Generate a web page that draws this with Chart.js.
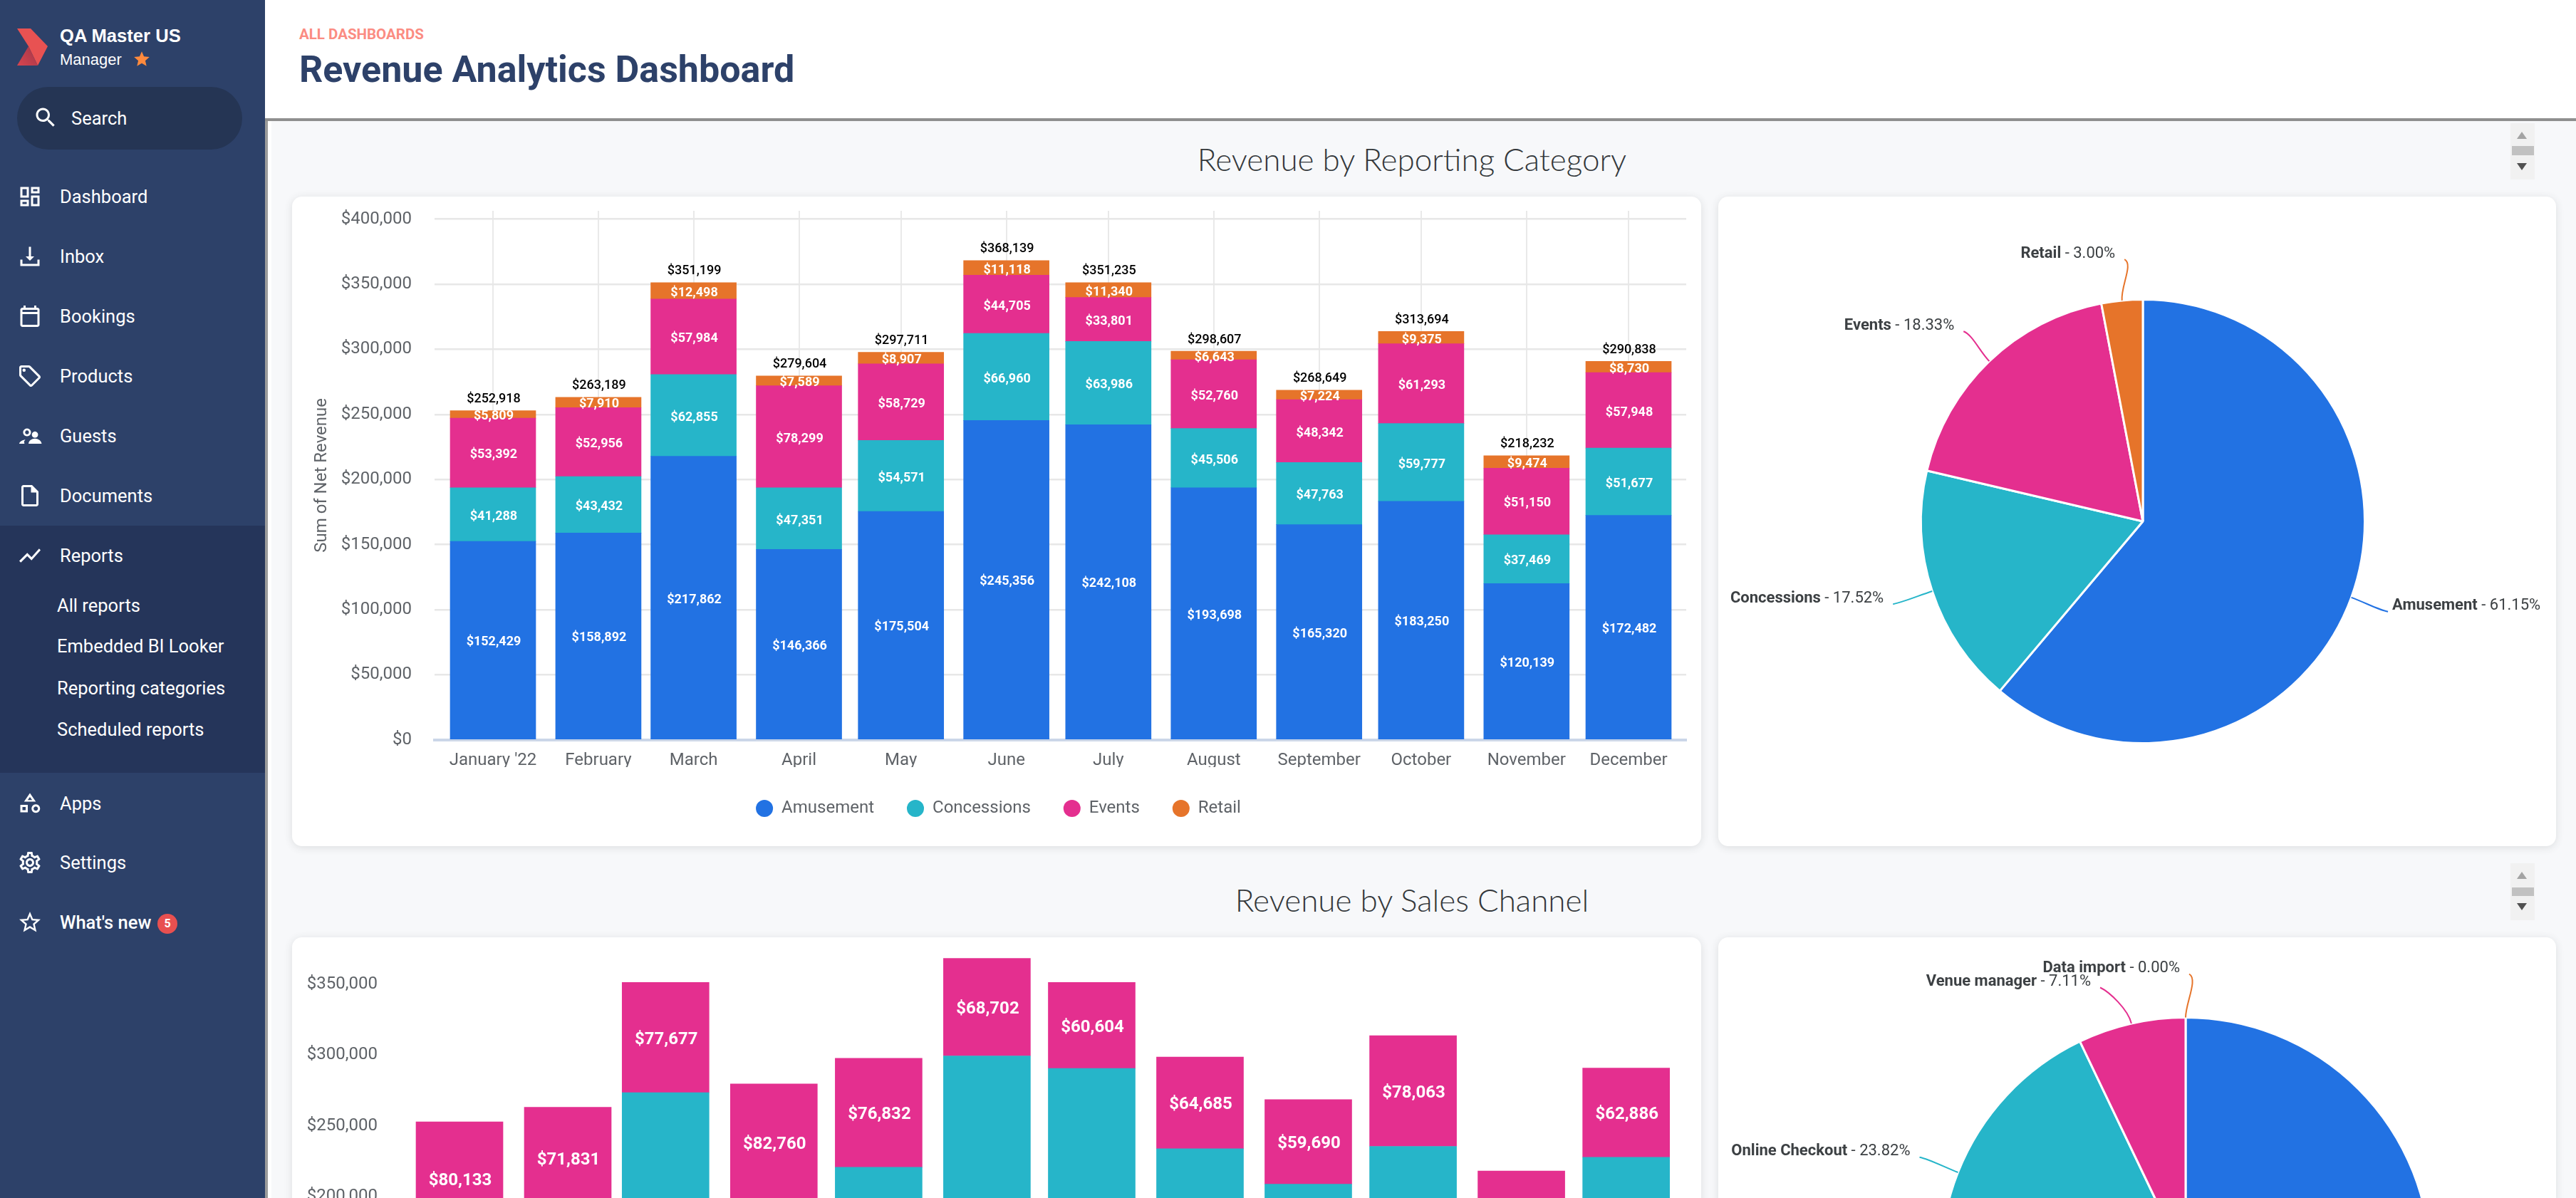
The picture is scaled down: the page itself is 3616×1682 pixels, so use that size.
<!DOCTYPE html>
<html><head><meta charset="utf-8"><title>Revenue Analytics Dashboard</title>
<script src="https://cdn.jsdelivr.net/npm/chart.js@4"></script>
<style>
html,body{margin:0;padding:0;width:3616px;height:1682px;overflow:hidden;background:#f7f8fa;font-family:Roboto,sans-serif}
.abs,.nav,.nav svg{position:absolute}
#side{position:absolute;left:0;top:0;width:372px;height:1682px;background:#2d4169}
#sideEdge{position:absolute;left:372px;top:170px;width:4px;height:1512px;background:#9b9b9b}
#sideGlow{position:absolute;left:376px;top:170px;width:5px;height:1512px;background:#fff}
#head{position:absolute;left:372px;top:0;right:0;height:166px;background:#fff;border-bottom:4px solid #8f8f8f}
#active{position:absolute;left:0;top:738px;width:372px;height:347px;background:#25355a}
.nav{left:84px;color:#fff;font-size:25.5px;line-height:30px;white-space:nowrap;transform:translateY(-15px)}
.sub{left:80px;font-size:25.5px}
svg.ic{position:absolute;left:24px;width:36px;height:36px;fill:#fff;transform:translateY(-18px)}
.card{position:absolute;background:#fff;border-radius:14px;box-shadow:0 2px 12px rgba(60,64,67,.14)}
.card canvas{position:absolute;left:0;top:0}
.hd{position:absolute;left:376px;width:3212px;text-align:center;color:#33373a;font-family:Lato,sans-serif;font-weight:300;font-size:44px;line-height:50px;transform:translateY(-25px)}
.scr{position:absolute;left:3524px;width:34px;background:#f1f1f1}
.scr i{position:absolute;left:2px;width:31px;background:#c1c1c1}
.scr b{position:absolute;left:9px;width:0;height:0;border-left:7.5px solid transparent;border-right:7.5px solid transparent}
</style></head><body>
<div id="side"></div><div id="active"></div><div id="sideEdge"></div><div id="sideGlow"></div><div id="head"></div>

<svg class="abs" style="left:24px;top:40px" width="44" height="52" viewBox="0 0 44 52"><defs><linearGradient id="lg" x1="0" y1="1" x2="1" y2="0.3"><stop offset="0" stop-color="#d8454f"/><stop offset="1" stop-color="#a8384a"/></linearGradient></defs><polygon points="0,0 19,0 43,25 29,52 16,25" fill="#e85252"/><polygon points="16,25 29,52 0,52" fill="url(#lg)"/></svg>
<div class="nav" style="top:50px;font-family:'Liberation Sans',sans-serif;font-weight:700;font-size:25.6px">QA Master US</div>
<div class="nav" style="top:84px;font-family:'Liberation Sans',sans-serif;font-size:22px">Manager</div>
<svg class="abs" style="left:186px;top:70px" width="26" height="26" viewBox="0 0 24 24"><path fill="#ff8a3d" d="M12 17.27L18.18 21l-1.64-7.03L22 9.24l-7.19-.61L12 2 9.19 8.63 2 9.24l5.46 4.73L5.82 21z"/></svg>
<div class="abs" style="left:24px;top:122px;width:316px;height:88px;border-radius:44px;background:#253554"></div>
<svg class="ic" style="top:165px;left:46px" viewBox="0 0 24 24"><path d="M15.5 14h-.79l-.28-.27C15.41 12.59 16 11.11 16 9.5 16 5.91 13.09 3 9.5 3S3 5.91 3 9.5 5.91 16 9.5 16c1.61 0 3.09-.59 4.23-1.57l.27.28v.79l5 4.99L20.49 19l-4.99-5zm-6 0C7.01 14 5 11.99 5 9.5S7.01 5 9.5 5 14 7.01 14 9.5 11.99 14 9.5 14z"/></svg>
<div class="nav" style="top:166px;left:100px">Search</div>

<svg class="ic" style="top:276px" viewBox="0 0 24 24"><path d="M19 5v2h-4V5h4M9 5v6H5V5h4m10 8v6h-4v-6h4M9 17v2H5v-2h4M21 3h-8v6h8V3zM11 3H3v10h8V3zm10 8h-8v10h8V11zm-10 4H3v6h8v-6z"/></svg>
<div class="nav" style="top:276px">Dashboard</div>
<svg class="ic" style="top:360px" viewBox="0 0 24 24"><path d="M19 15v4H5v-4H3v6h18v-6zM13 3h-2v9H8l4 4 4-4h-3z"/></svg>
<div class="nav" style="top:360px">Inbox</div>
<svg class="ic" style="top:444px" viewBox="0 0 24 24"><path d="M19 4h-1V2h-2v2H8V2H6v2H5C3.9 4 3 4.9 3 6v14c0 1.1.9 2 2 2h14c1.1 0 2-.9 2-2V6c0-1.1-.9-2-2-2zm0 16H5V10h14v10zm0-12H5V6h14v2z"/></svg>
<div class="nav" style="top:444px">Bookings</div>
<svg class="ic" style="top:528px" viewBox="0 0 24 24"><path d="M21.41 11.58l-9-9C12.05 2.22 11.55 2 11 2H4c-1.1 0-2 .9-2 2v7c0 .55.22 1.05.59 1.42l9 9c.36.36.86.58 1.41.58s1.05-.22 1.41-.59l7-7c.37-.36.59-.86.59-1.41s-.23-1.06-.59-1.42zM13 20.01L4 11V4h7v-.01l9 9-7 7.02z"/><circle cx="6.5" cy="6.5" r="1.5"/></svg>
<div class="nav" style="top:528px">Products</div>
<svg class="ic" style="top:612px" viewBox="0 0 24 24"><path fill-rule="evenodd" d="M9.3 5a3.7 3.7 0 1 0 .01 0ZM9.3 6.9a1.8 1.8 0 1 1-.01 0ZM16.7 7.9a2.9 2.9 0 1 0 .01 0ZM10.7 19.3c.2-2.9 3-4.8 6-4.8s5.9 1.9 6.3 4.8ZM2 19.3c.3-2 3-3.4 5.7-3.8l-1.2 1.7.4 2.1Z"/></svg>
<div class="nav" style="top:612px">Guests</div>
<svg class="ic" style="top:696px" viewBox="0 0 24 24"><path d="M14 2H6c-1.1 0-2 .9-2 2v16c0 1.1.9 2 2 2h12c1.1 0 2-.9 2-2V8l-6-6zm4 18H6V4h7v5h5v11z"/></svg>
<div class="nav" style="top:696px">Documents</div>
<svg class="ic" style="top:780px" viewBox="0 0 24 24"><path d="M3.5 18.49l6-6.01 4 4L22 6.92l-1.41-1.41-7.09 7.97-4-4L2 16.99z"/></svg>
<div class="nav" style="top:780px">Reports</div>
<div class="nav sub" style="top:850px">All reports</div>
<div class="nav sub" style="top:907px">Embedded BI Looker</div>
<div class="nav sub" style="top:966px">Reporting categories</div>
<div class="nav sub" style="top:1024px">Scheduled reports</div>
<svg class="ic" style="top:1127px" viewBox="0 0 24 24"><path fill-rule="evenodd" d="M12 3L17.5 11H6.5ZM12 6.6L9.9 9.5H14.1ZM3 14h7v7H3ZM5 16v3h3v-3ZM17.5 13.5a4 4 0 1 0 .01 0ZM17.5 15.5a2 2 0 1 1-.01 0Z"/></svg>
<div class="nav" style="top:1128px">Apps</div>
<svg class="ic" style="top:1211px" viewBox="0 0 24 24"><path d="M19.43 12.98c.04-.32.07-.64.07-.98 0-.34-.03-.66-.07-.98l2.11-1.65c.19-.15.24-.42.12-.64l-2-3.46c-.09-.16-.26-.25-.44-.25-.06 0-.12.01-.17.03l-2.49 1c-.52-.4-1.08-.73-1.69-.98l-.38-2.65C14.46 2.18 14.25 2 14 2h-4c-.25 0-.46.18-.49.42l-.38 2.65c-.61.25-1.17.59-1.69.98l-2.49-1c-.06-.02-.12-.03-.18-.03-.17 0-.34.09-.43.25l-2 3.46c-.13.22-.07.49.12.64l2.11 1.65c-.04.32-.07.65-.07.98 0 .33.03.66.07.98l-2.11 1.65c-.19.15-.24.42-.12.64l2 3.46c.09.16.26.25.44.25.06 0 .12-.01.17-.03l2.49-1c.52.4 1.08.73 1.69.98l.38 2.65c.03.24.24.42.49.42h4c.25 0 .46-.18.49-.42l.38-2.65c.61-.25 1.17-.59 1.69-.98l2.49 1c.06.02.12.03.18.03.17 0 .34-.09.43-.25l2-3.46c.12-.22.07-.49-.12-.64l-2.11-1.65zm-1.98-1.71c.04.31.05.52.05.73 0 .21-.02.43-.05.73l-.14 1.13.89.7 1.08.84-.7 1.21-1.27-.51-1.04-.42-.9.68c-.43.32-.84.56-1.25.73l-1.06.43-.16 1.13-.2 1.35h-1.4l-.19-1.35-.16-1.13-1.06-.43c-.43-.18-.83-.41-1.23-.71l-.91-.7-1.06.43-1.27.51-.7-1.21 1.08-.84.89-.7-.14-1.13c-.03-.31-.05-.54-.05-.74s.02-.43.05-.73l.14-1.13-.89-.7-1.08-.84.7-1.21 1.27.51 1.04.42.9-.68c.43-.32.84-.56 1.25-.73l1.06-.43.16-1.13.2-1.35h1.39l.19 1.35.16 1.13 1.06.43c.43.18.83.41 1.23.71l.91.7 1.06-.43 1.27-.51.7 1.21-1.07.85-.89.7.14 1.13zM12 8c-2.21 0-4 1.79-4 4s1.79 4 4 4 4-1.79 4-4-1.79-4-4-4zm0 6c-1.1 0-2-.9-2-2s.9-2 2-2 2 .9 2 2-.9 2-2 2z"/></svg>
<div class="nav" style="top:1211px">Settings</div>
<svg class="ic" style="top:1295px" viewBox="0 0 24 24"><path d="M22 9.24l-7.19-.62L12 2 9.19 8.63 2 9.24l5.46 4.73L5.82 21 12 17.27 18.18 21l-1.63-7.03L22 9.24zM12 15.4l-3.76 2.27 1-4.28-3.32-2.88 4.38-.38L12 6.1l1.71 4.04 4.38.38-3.32 2.88 1 4.28L12 15.4z"/></svg>
<div class="nav" style="top:1295px;font-weight:500">What's new</div>
<div class="abs" style="left:221px;top:1283px;width:28px;height:28px;border-radius:50%;background:#e85050;color:#fff;font-size:16px;font-weight:700;line-height:28px;text-align:center">5</div>

<div class="abs" style="left:420px;top:36px;font-size:20.5px;line-height:24px;font-weight:700;color:#fb8c82">ALL DASHBOARDS</div>
<div class="abs" style="left:420px;top:66px;font-size:52px;line-height:64px;font-weight:700;color:#2d4169;white-space:nowrap">Revenue Analytics Dashboard</div>

<div class="hd" style="top:223px">Revenue by Reporting Category</div>
<div class="scr" style="top:173px;height:79px"><b style="top:12px;border-bottom:10px solid #a3a3a3"></b><i style="top:32px;height:13px"></i><b style="top:56px;border-top:10px solid #505050"></b></div>
<div class="hd" style="top:1263px">Revenue by Sales Channel</div>
<div class="scr" style="top:1212px;height:80px"><b style="top:12px;border-bottom:10px solid #a3a3a3"></b><i style="top:34px;height:12px"></i><b style="top:56px;border-top:10px solid #505050"></b></div>

<div class="card" style="left:410px;top:276px;width:1978px;height:912px"><canvas id="barCategory" width="1978" height="912" style="width:1978px;height:912px"></canvas></div>
<div class="card" style="left:2412px;top:276px;width:1176px;height:912px"><canvas id="pieCategory" width="1176" height="912" style="width:1176px;height:912px"></canvas></div>
<div class="card" style="left:410px;top:1316px;width:1978px;height:884px"><canvas id="barChannel" width="1978" height="884" style="width:1978px;height:884px"></canvas></div>
<div class="card" style="left:2412px;top:1316px;width:1176px;height:884px"><canvas id="pieChannel" width="1176" height="884" style="width:1176px;height:884px"></canvas></div>

<script>
const monthLabels = ["January '22","February","March","April","May","June","July","August","September","October","November","December"];
const monthStartDay = [0,31,59,90,120,151,181,212,243,273,304,334];
const revenueTicks = [0,50000,100000,150000,200000,250000,300000,350000,400000];

const amusement = [152429,158892,217862,146366,175504,245356,242108,193698,165320,183250,120139,172482];
const concessions = [41288,43432,62855,47351,54571,66960,63986,45506,47763,59777,37469,51677];
const events = [53392,52956,57984,78299,58729,44705,33801,52760,48342,61293,51150,57948];
const retail = [5809,7910,12498,7589,8907,11118,11340,6643,7224,9375,9474,8730];
const monthTotals = [252918,263189,351199,279604,297711,368139,351235,298607,268649,313694,218232,290838];

const categoryNames = ["Amusement","Concessions","Events","Retail"];
const categoryShares = [61.15,17.52,18.33,3.00];

// Only the top of this stack is visible in the reference; lower segments are estimates.
const channelBlue = [18000,18700,25000,19900,21200,26200,25000,21200,19100,22300,15500,20700];
const channelTeal = [154785,172658,248522,176944,199679,273237,265631,212722,189859,213331,138552,207252];
const channelPink = [80133,71831,77677,82760,76832,68702,60604,64685,59690,78063,64180,62886];

const channelNames = ["Other","Online Checkout","Venue manager","Data import"];
const channelShares = [69.07,23.82,7.11,0.00];

const BLUE="#2272e3", TEAL="#26b5c9", PINK="#e42f8f", ORANGE="#e6742a";
const money = v => "$" + Math.round(v).toLocaleString("en-US");
const FONT = "Roboto";
const AXIS = "#5f6368";

const segmentLabels = {
  id:"segmentLabels",
  afterDatasetsDraw(chart,_a,opts){
    const ctx=chart.ctx, top=chart.canvas.getBoundingClientRect().top;
    ctx.save(); ctx.textAlign="center"; ctx.textBaseline="middle";
    ctx.fillStyle="#fff"; ctx.font=`700 ${opts.size}px ${FONT}`;
    chart.data.datasets.forEach((ds,di)=>{
      if(opts.only && !opts.only.includes(di)) return;
      chart.getDatasetMeta(di).data.forEach((bar,i)=>{
        const y=(bar.y+bar.base)/2+opts.dy;
        if(top+y>window.innerHeight) return;
        ctx.fillText(money(ds.data[i].y),bar.x+1,y);
      });
    });
    if(opts.totals){
      ctx.fillStyle="#000"; ctx.font=`500 ${opts.totalSize}px ${FONT}`;
      const n=chart.data.datasets.length-1;
      chart.getDatasetMeta(n).data.forEach((bar,i)=>{
        ctx.fillText(money(opts.totals[i]),bar.x+1,chart.scales.y.getPixelForValue(opts.totals[i])-16);
      });
    }
    ctx.restore();
  }
};

const pieLabels = {
  id:"pieLabels",
  afterDatasetsDraw(chart,_a,opts){
    const ctx=chart.ctx, top=chart.canvas.getBoundingClientRect().top, S=opts.size;
    ctx.save(); ctx.textBaseline="middle";
    chart.getDatasetMeta(0).data.forEach((arc,i)=>{
      const mid=(arc.startAngle+arc.endAngle)/2, c=Math.cos(mid), s=Math.sin(mid);
      const R=arc.outerRadius, shift=(opts.shift&&opts.shift[i])||[0,0];
      const sx=arc.x+R*c, sy=arc.y+R*s;
      const ex=sx+opts.reach*c+shift[0], ey=sy+opts.reach*s+shift[1];
      const right=c>0.01;
      const ty=ey-8;
      if(top+ty>window.innerHeight) return;
      const col=chart.data.datasets[0].backgroundColor[i];
      ctx.strokeStyle=col; ctx.lineWidth=2; ctx.beginPath(); ctx.moveTo(sx,sy);
      const hook=(right?1:-1)*8;
      ctx.bezierCurveTo(sx+opts.reach*.35*c,sy+opts.reach*.35*s, ex-hook*1.6,ey-(ey-sy)*.12, ex,ey);
      ctx.stroke();
      const name=opts.names[i], val=" - "+opts.values[i].toFixed(2)+"%";
      ctx.font=`700 ${S}px ${FONT}`; const w1=ctx.measureText(name).width;
      ctx.font=`400 ${S}px ${FONT}`; const w2=ctx.measureText(val).width;
      const x0=right? ex+6 : ex-13-w1-w2;
      ctx.textAlign="left"; ctx.fillStyle="#3c4043";
      ctx.font=`700 ${S}px ${FONT}`; ctx.fillText(name,x0,ty);
      ctx.font=`400 ${S}px ${FONT}`; ctx.fillText(val,x0+w1,ty);
    });
    ctx.restore();
  }
};

function pts(values){ return values.map((v,i)=>({x:monthStartDay[i],y:v})); }

function xAxis(min,max,height,showGrid){
  return {
    type:"linear", stacked:true, min, max, offset:false,
    afterBuildTicks(s){ s.ticks=monthStartDay.map(v=>({value:v})); },
    afterFit(s){ s.height=height; s.paddingLeft=0; s.paddingRight=0; s.paddingTop=0; s.paddingBottom=0; },
    grid:{display:showGrid, offset:false, color:"#e9e9e9", lineWidth:2, drawTicks:false},
    border:{display:true, color:showGrid?"#cbd6e8":"transparent", width:4},
    ticks:{autoSkip:false, maxRotation:0, minRotation:0, padding:15, color:AXIS, font:{family:FONT,size:24},
      callback:v=>monthLabels[monthStartDay.indexOf(v)]}
  };
}
function yAxis(max,width,showGrid,title,titlePad){
  return {
    stacked:true, min:0, max,
    afterBuildTicks(s){ s.ticks=revenueTicks.filter(v=>v<=max).map(v=>({value:v})); },
    afterFit(s){ s.width=width; s.paddingLeft=0; s.paddingRight=0; s.paddingTop=0; s.paddingBottom=0; },
    grid:{display:showGrid, color:"#e7e7e7", lineWidth:2.5, drawTicks:false},
    border:{display:false},
    title: title ? {display:true,text:title,color:AXIS,font:{family:FONT,size:24},padding:{top:titlePad,bottom:0}} : {display:false},
    ticks:{autoSkip:false, padding:32, color:AXIS, font:{family:FONT,size:24}, callback:v=>money(v)}
  };
}
const baseOpts={responsive:false, animation:false, devicePixelRatio:1, events:[]};

new Chart(document.getElementById("barCategory"),{
  type:"bar",
  data:{datasets:[
    {label:categoryNames[0],data:pts(amusement),backgroundColor:BLUE},
    {label:categoryNames[1],data:pts(concessions),backgroundColor:TEAL},
    {label:categoryNames[2],data:pts(events),backgroundColor:PINK},
    {label:categoryNames[3],data:pts(retail),backgroundColor:ORANGE}
  ].map(d=>Object.assign(d,{barThickness:120,borderWidth:0}))},
  options:Object.assign({},baseOpts,{
    layout:{padding:{left:26,top:20,right:21,bottom:31}},
    scales:{x:xAxis(-17.18,350.97,38.2,true), y:yAxis(406400,174,true,"Sum of Net Revenue",2)},
    plugins:{
      tooltip:{enabled:false},
      legend:{position:"bottom",labels:{usePointStyle:true,pointStyle:"circle",boxHeight:17,boxWidth:24,padding:46,color:AXIS,font:{family:FONT,size:24}}},
      segmentLabels:{size:18,dy:3,totals:monthTotals,totalSize:18}
    }
  }),
  plugins:[segmentLabels]
});

new Chart(document.getElementById("pieCategory"),{
  type:"pie",
  data:{labels:categoryNames,datasets:[{data:categoryShares,backgroundColor:[BLUE,TEAL,PINK,ORANGE],borderColor:"#fff",borderWidth:3}]},
  options:Object.assign({},baseOpts,{
    layout:{padding:{left:283,right:267,top:143,bottom:143}},
    plugins:{legend:{display:false},tooltip:{enabled:false},
      pieLabels:{size:22,reach:58,names:categoryNames,values:categoryShares,shift:{0:[-3,0],2:[4,0],3:[9,0]}}}
  }),
  plugins:[pieLabels]
});

new Chart(document.getElementById("barChannel"),{
  type:"bar",
  data:{datasets:[
    {label:channelNames[0],data:pts(channelBlue),backgroundColor:BLUE},
    {label:channelNames[2],data:pts(channelTeal),backgroundColor:TEAL},
    {label:channelNames[1],data:pts(channelPink),backgroundColor:PINK}
  ].map(d=>Object.assign(d,{barThickness:122,borderWidth:0}))},
  options:Object.assign({},baseOpts,{
    layout:{padding:{left:0,top:26,right:21,bottom:81.5}},
    scales:{x:xAxis(-16.93,351.2,40,false), y:yAxis(370000,152,false,null)},
    plugins:{
      tooltip:{enabled:false}, legend:{display:false},
      segmentLabels:{size:24,dy:3,only:[2]}
    }
  }),
  plugins:[segmentLabels]
});

new Chart(document.getElementById("pieChannel"),{
  type:"pie",
  data:{labels:channelNames,datasets:[{data:channelShares,backgroundColor:[BLUE,TEAL,PINK,ORANGE],borderColor:"#fff",borderWidth:3}]},
  options:Object.assign({},baseOpts,{
    layout:{padding:{left:311,right:175,top:111,bottom:83}},
    plugins:{legend:{display:false},tooltip:{enabled:false},
      pieLabels:{size:22,reach:58,names:channelNames,values:channelShares,shift:{2:[-31,6],3:[5,-3]}}}
  }),
  plugins:[pieLabels]
});
</script>
</body></html>
